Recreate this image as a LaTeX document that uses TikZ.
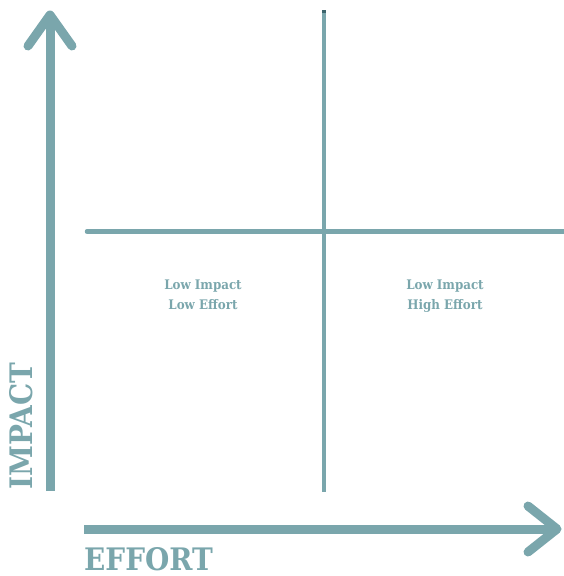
\documentclass[tikz,border=0pt]{standalone}
\usepackage{fontspec}
\setmainfont{DejaVu Serif}
\newfontfamily\condserif{DejaVu Serif Condensed}
\definecolor{teal1}{RGB}{122,166,172}
\definecolor{tealdark}{RGB}{60,100,108}
\begin{document}
\begin{tikzpicture}[x=1pt,y=-1pt,
  axisline/.style={draw=teal1,line width=9pt},
  axishead/.style={draw=teal1,line width=9pt,line cap=round,line join=round},
  divider/.style={draw=teal1,line width=4.5pt},
  quad/.style={text=teal1,font=\condserif\bfseries\fontsize{13.2}{20}\selectfont,align=center,inner sep=0pt,anchor=base},
  axislabel/.style={text=teal1,font=\condserif\bfseries\fontsize{31}{31}\selectfont,inner sep=0pt}]
\useasboundingbox (0,0) rectangle (564,576);
% dividers
\coordinate (vtop) at (324,11);
\coordinate (vbot) at (324,492);
\coordinate (hleft) at (87,231.5);
\coordinate (hright) at (566,231.5);
\draw[divider] (vtop) -- (vbot);
\draw[divider,line cap=round] (hleft) -- (hright);
\fill[tealdark] (322,10) rectangle (326,13);
% vertical axis
\coordinate (ybot) at (50,491);
\coordinate (ytip) at (50,15);
\coordinate (yl) at (28,46);
\coordinate (yr) at (72,46);
\draw[axisline] (ybot) -- (ytip);
\draw[axishead] (yl) -- (ytip) -- (yr);
% horizontal axis
\coordinate (xl) at (84,529);
\coordinate (xtip) at (557,529);
\coordinate (xu) at (528,506);
\coordinate (xd) at (528,552);
\draw[axisline] (xl) -- (xtip);
\draw[axishead] (xu) -- (xtip) -- (xd);
% quadrant labels
\node[quad] (q1) at (203,309) {Low Impact\\Low Effort};
\node[quad] (q2) at (445,309) {Low Impact\\High Effort};
% axis labels
\node[axislabel,anchor=base west] (ex) at (84,570) {EFFORT};
\node[axislabel,rotate=90,anchor=base west] (im) at (32,490) {IMPACT};
\end{tikzpicture}
\end{document}
